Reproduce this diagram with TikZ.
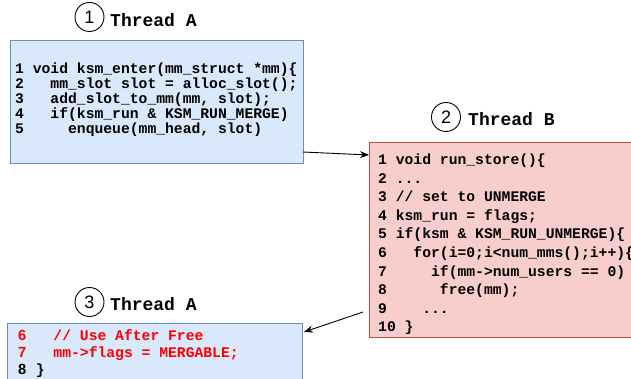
\documentclass[tikz,border=0pt]{standalone}
\usepackage{fontspec}
\newfontfamily\codefont{Liberation Mono}
\newfontfamily\numfont{Liberation Sans}
\usetikzlibrary{arrows.meta}
\definecolor{bfill}{HTML}{DAE8FC}
\definecolor{bline}{HTML}{6C8EBF}
\definecolor{rfill}{HTML}{F8CECC}
\definecolor{rline}{HTML}{B85450}
\definecolor{redtxt}{HTML}{FF0000}
\newcommand\mydots{...}
\tikzset{
  bluebox/.style={draw=bline, fill=bfill, line width=0.9pt, rectangle, inner sep=0pt, outer sep=0pt, anchor=north west},
  redbox/.style={draw=rline, fill=rfill, line width=0.9pt, rectangle, inner sep=0pt, outer sep=0pt, anchor=north west},
  code/.style={font=\codefont\bfseries\fontsize{14.7}{15}\selectfont, inner sep=0pt, anchor=base west},
  title/.style={font=\codefont\bfseries\fontsize{18}{20}\selectfont, inner sep=0pt, anchor=base west},
  num/.style={circle, draw=black, line width=0.9pt, minimum size=29pt, inner sep=0pt, font=\numfont\fontsize{18}{20}\selectfont},
  arr/.style={-{Stealth[length=9pt,width=7pt]}, line width=0.9pt, black}
}
\begin{document}
\begin{tikzpicture}[x=1pt,y=-1pt]
\useasboundingbox (0,0) rectangle (631,379);
\clip (0,0) rectangle (631,379);
% boxes
\node[bluebox, minimum width=293pt, minimum height=123pt] (box1) at (10,40) {};
\node[redbox, minimum width=280pt, minimum height=195pt] (box2) at (369,142) {};
\node[bluebox, minimum width=295pt, minimum height=75pt] (box3) at (7,323) {};
% titles
\node[num] (c1) at (89.5,17) {1};
\node[title] (t1) at (110,27) {Thread A};
\node[num] (c2) at (446,117) {2};
\node[title] (t2) at (468,126) {Thread B};
\node[num] (c3) at (89.5,302) {3};
\node[title] (t3) at (110,310) {Thread A};
% code box 1
\foreach \t [count=\k] in {
  {1 void ksm\_enter(mm\_struct *mm)\{},
  {2~~~mm\_slot slot = alloc\_slot();},
  {3~~~add\_slot\_to\_mm(mm, slot);},
  {4~~~if(ksm\_run \& KSM\_RUN\_MERGE)},
  {5~~~~~enqueue(mm\_head, slot)}}
  \node[code] (a\k) at (15,{74+15*(\k-1)}) {\t};
% code box 2
\foreach \t [count=\k] in {
  {1 void run\_store()\{},
  {2 \mydots},
  {3 // set to UNMERGE},
  {4 ksm\_run = flags;},
  {5 if(ksm \& KSM\_RUN\_UNMERGE)\{},
  {6~~~for(i=0;i<num\_mms();i++)\{},
  {7~~~~~if(mm->num\_users == 0)},
  {8~~~~~~free(mm);},
  {9~~~~\mydots},
  {10 \}}}
  \node[code] (b\k) at (378,{165+18.5*(\k-1)}) {\t};
% code box 3
\node[code, text=redtxt] (d1) at (18,340) {\makebox[0.6em][l]{\numfont\bfseries 6}~~~// Use After Free};
\node[code, text=redtxt] (d2) at (18,357) {\makebox[0.6em][l]{\numfont\bfseries 7}~~~mm->flags = MERGABLE;};
\node[code] (d3) at (18,374) {\makebox[0.6em][l]{\numfont\bfseries 8}~\}};
% arrows
\draw[arr] ([yshift=11pt]box1.south east) -- ([yshift=-13pt]box2.north west);
\draw[arr] ([xshift=-6pt,yshift=25pt]box2.south west) -- ([xshift=2pt,yshift=-9pt]box3.north east);
\end{tikzpicture}
\end{document}
